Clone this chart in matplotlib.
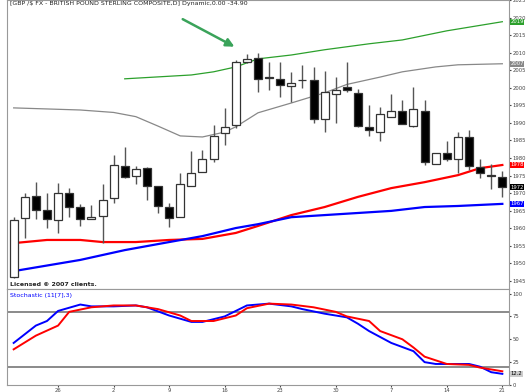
import numpy as np
import matplotlib
matplotlib.use("Agg")
import matplotlib.pyplot as plt

# daily candles, GBP/$ (Mar 20 .. May 21)
opens = [1.9460, 1.9629, 1.9691, 1.9651, 1.9623, 1.9700, 1.9660, 1.9626, 1.9634, 1.9686,
         1.9777, 1.9749, 1.9771, 1.9720, 1.9660, 1.9631, 1.9720, 1.9760, 1.9797, 1.9871,
         1.9894, 2.0074, 2.0086, 2.0031, 2.0026, 2.0006, 2.0023, 2.0023, 1.9911, 1.9983,
         2.0003, 1.9986, 1.9889, 1.9874, 1.9917, 1.9934, 1.9891, 1.9934, 1.9783, 1.9814,
         1.9797, 1.9860, 1.9774, 1.9752, 1.9746]
highs = [1.9631, 1.9700, 1.9731, 1.9700, 1.9729, 1.9714, 1.9669, 1.9666, 1.9726, 1.9809,
         1.9831, 1.9777, 1.9774, 1.9720, 1.9671, 1.9757, 1.9820, 1.9823, 1.9894, 1.9943,
         2.0080, 2.0097, 2.0100, 2.0074, 2.0074, 2.0046, 2.0066, 2.0060, 2.0049, 2.0031,
         2.0074, 1.9997, 1.9951, 1.9946, 1.9983, 1.9966, 2.0003, 1.9966, 1.9814, 1.9849,
         1.9874, 1.9880, 1.9797, 1.9783, 1.9763]
lows = [1.9457, 1.9571, 1.9626, 1.9600, 1.9586, 1.9631, 1.9606, 1.9626, 1.9557, 1.9671,
        1.9743, 1.9726, 1.9680, 1.9643, 1.9603, 1.9631, 1.9720, 1.9760, 1.9789, 1.9837,
        1.9886, 2.0071, 1.9989, 1.9994, 1.9974, 1.9960, 2.0000, 1.9900, 1.9874, 1.9900,
        1.9989, 1.9889, 1.9863, 1.9849, 1.9917, 1.9897, 1.9889, 1.9780, 1.9783, 1.9791,
        1.9757, 1.9766, 1.9743, 1.9711, 1.9689]
closes = [1.9623, 1.9689, 1.9651, 1.9626, 1.9700, 1.9660, 1.9626, 1.9631, 1.9680, 1.9780,
          1.9746, 1.9769, 1.9720, 1.9663, 1.9629, 1.9726, 1.9757, 1.9797, 1.9863, 1.9889,
          2.0074, 2.0083, 2.0026, 2.0029, 2.0009, 2.0014, 2.0023, 1.9911, 1.9989, 1.9994,
          1.9994, 1.9891, 1.9880, 1.9926, 1.9934, 1.9897, 1.9940, 1.9789, 1.9814, 1.9797,
          1.9860, 1.9777, 1.9757, 1.9750, 1.9717]

date_idx = [4, 9, 14, 19, 24, 29, 34, 39, 44]
date_labels = ["26", "2", "9", "16", "23", "30", "7", "14", "21"]

# overlays (read at sample candles)
upper_idx = [10, 16, 18, 20, 22, 25, 28, 32, 35, 39, 44]
upper_val = [2.0026, 2.0037, 2.0046, 2.0060, 2.0083, 2.0094, 2.0109, 2.0126, 2.0137, 2.0163, 2.0189]
mid_idx = [0, 3, 6, 9, 11, 13, 15, 17, 19, 20, 22, 25, 28, 30, 33, 35, 38, 40, 44]
mid_val = [1.9943, 1.9940, 1.9937, 1.9930, 1.9918, 1.9891, 1.9863, 1.9860, 1.9874, 1.9889,
           1.9929, 1.9957, 1.9986, 2.0010, 2.0031, 2.0046, 2.0060, 2.0066, 2.0069]
red_idx = [0, 3, 6, 8, 11, 14, 17, 20, 22, 25, 28, 31, 34, 37, 40, 42, 44]
red_val = [1.9557, 1.9566, 1.9566, 1.9560, 1.9560, 1.9566, 1.9569, 1.9586, 1.9606, 1.9637,
           1.9660, 1.9689, 1.9714, 1.9731, 1.9751, 1.9771, 1.9780]
blue_idx = [0, 6, 10, 14, 17, 20, 22, 25, 28, 31, 34, 37, 40, 44]
blue_val = [1.9477, 1.9509, 1.9537, 1.9560, 1.9577, 1.9600, 1.9611, 1.9631, 1.9637, 1.9643,
            1.9649, 1.9660, 1.9663, 1.9669]

# stochastic
k_idx = [0, 2, 3, 4, 6, 7, 9, 11, 12, 14, 16, 17, 19, 21, 23, 25, 26, 28, 30, 31, 32, 34,
         36, 37, 38, 41, 42, 43, 44]
k_val = [46, 65, 70, 81, 88, 86, 86, 87, 85, 76, 69, 69, 75, 87, 89, 86, 83, 78, 74, 67, 59,
         46, 37, 25, 23, 23, 20, 14, 12.2]
d_idx = [0, 2, 4, 5, 7, 9, 11, 13, 15, 16, 18, 20, 21, 23, 25, 27, 29, 30, 32, 33, 35, 36,
         37, 39, 41, 42, 44]
d_val = [39, 54, 65, 80, 85, 87, 87, 83, 76, 70, 70, 76, 84, 89, 88, 85, 80, 75, 70, 59, 50,
         41, 31, 23, 22, 19, 15]

W, H = 527, 392
fig = plt.figure(figsize=(W / 100, H / 100), dpi=100)
fig.patch.set_facecolor("white")
left, right = 7 / W, 509 / W
ax = fig.add_axes([left, 1 - 289 / H, right - left, 289 / H])
ax2 = fig.add_axes([left, 1 - 385 / H, right - left, 96 / H])

FS = 3.8


def fmt(v):
    return f"{int(round(v * 1000))}"


x = np.arange(len(opens))
o = np.array(opens); c = np.array(closes)
up = c >= o
ax.vlines(x, lows, highs, color="#555555", lw=1, zorder=2)
ax.bar(x, c - o, bottom=o, width=0.72,
       color=np.where(up, "white", "black"), edgecolor="#333333", lw=0.9, zorder=3)

ax.plot(upper_idx, upper_val, color="#2ca02c", lw=0.9, zorder=1)
ax.plot(mid_idx, mid_val, color="#888888", lw=0.9, zorder=1)
ax.plot(red_idx, red_val, color="#ff0000", lw=1.6, zorder=1)
ax.plot(blue_idx, blue_val, color="#0000ff", lw=1.6, zorder=1)

xlim = (-0.6, 44.6)
ax.set_xlim(*xlim)
ax.set_ylim(1.9426, 2.0251)
ticks = np.arange(1.945, 2.0251, 0.005)
ax.yaxis.tick_right()
ax.set_yticks(ticks)
ax.set_yticklabels([fmt(t) for t in ticks])
ax.tick_params(axis="y", labelsize=FS, length=1.5, pad=0.8, colors="#444444")
ax.set_xticks([])
for s in ax.spines.values():
    s.set_color("#999999")

ax.text(0.005, 0.995, "[GBP /$ FX - BRITISH POUND STERLING COMPOSITE,D] Dynamic,0.00 -34.90",
        transform=ax.transAxes, fontsize=4.5, va="top", ha="left", color="#222222")
ax.text(0.005, 0.008, "Licensed © 2007 clients.", transform=ax.transAxes,
        fontsize=4.5, va="bottom", ha="left", color="#222222", fontweight="bold")

ax.annotate("", xy=(20.1, 2.0114), xytext=(15.0, 2.0200),
            arrowprops=dict(arrowstyle="-|>", color="#3aa35a", lw=1.8,
                            mutation_scale=12))

# current value flags on the price scale
flags = [(upper_val[-1], "#2ca02c", "white"), (mid_val[-1], "#888888", "white"),
         (red_val[-1], "#ff0000", "white"), (closes[-1], "black", "white"),
         (blue_val[-1], "#0000ff", "white")]
for val, bg, fg in flags:
    ax.annotate(fmt(val), xy=(1.0, val), xycoords=("axes fraction", "data"),
                xytext=(1.0, 0), textcoords="offset points", fontsize=FS, color=fg,
                va="center", ha="left", zorder=5,
                bbox=dict(boxstyle="square,pad=0.08", fc=bg, ec="none"))

ax2.plot(k_idx, k_val, color="#0000ff", lw=1.4)
ax2.plot(d_idx, d_val, color="#ff0000", lw=1.4)
ax2.axhline(80, color="#777777", lw=1.2, zorder=0)
ax2.axhline(20, color="#777777", lw=1.2, zorder=0)
ax2.set_xlim(*xlim)
ax2.set_ylim(2, 105)
ax2.yaxis.tick_right()
ax2.set_yticks([0, 25, 50, 75, 100])
ax2.set_yticklabels(["0", "25", "50", "75", "100"])
ax2.tick_params(axis="y", labelsize=FS, length=1.5, pad=0.8, colors="#444444")
ax2.set_xticks(date_idx)
ax2.set_xticklabels(date_labels)
ax2.tick_params(axis="x", labelsize=FS, length=1.5, pad=0.5, colors="#444444")
for s in ax2.spines.values():
    s.set_color("#999999")
ax2.text(0.005, 0.96, "Stochastic (11[7],3)", transform=ax2.transAxes,
         fontsize=4.5, va="top", ha="left", color="#0000ff")
ax2.annotate("12.2", xy=(1.0, k_val[-1]), xycoords=("axes fraction", "data"),
             xytext=(1.0, 0), textcoords="offset points", fontsize=FS, color="black",
             va="center", ha="left",
             bbox=dict(boxstyle="square,pad=0.08", fc="#cccccc", ec="none"))

fig.savefig("out.png", dpi=100)
